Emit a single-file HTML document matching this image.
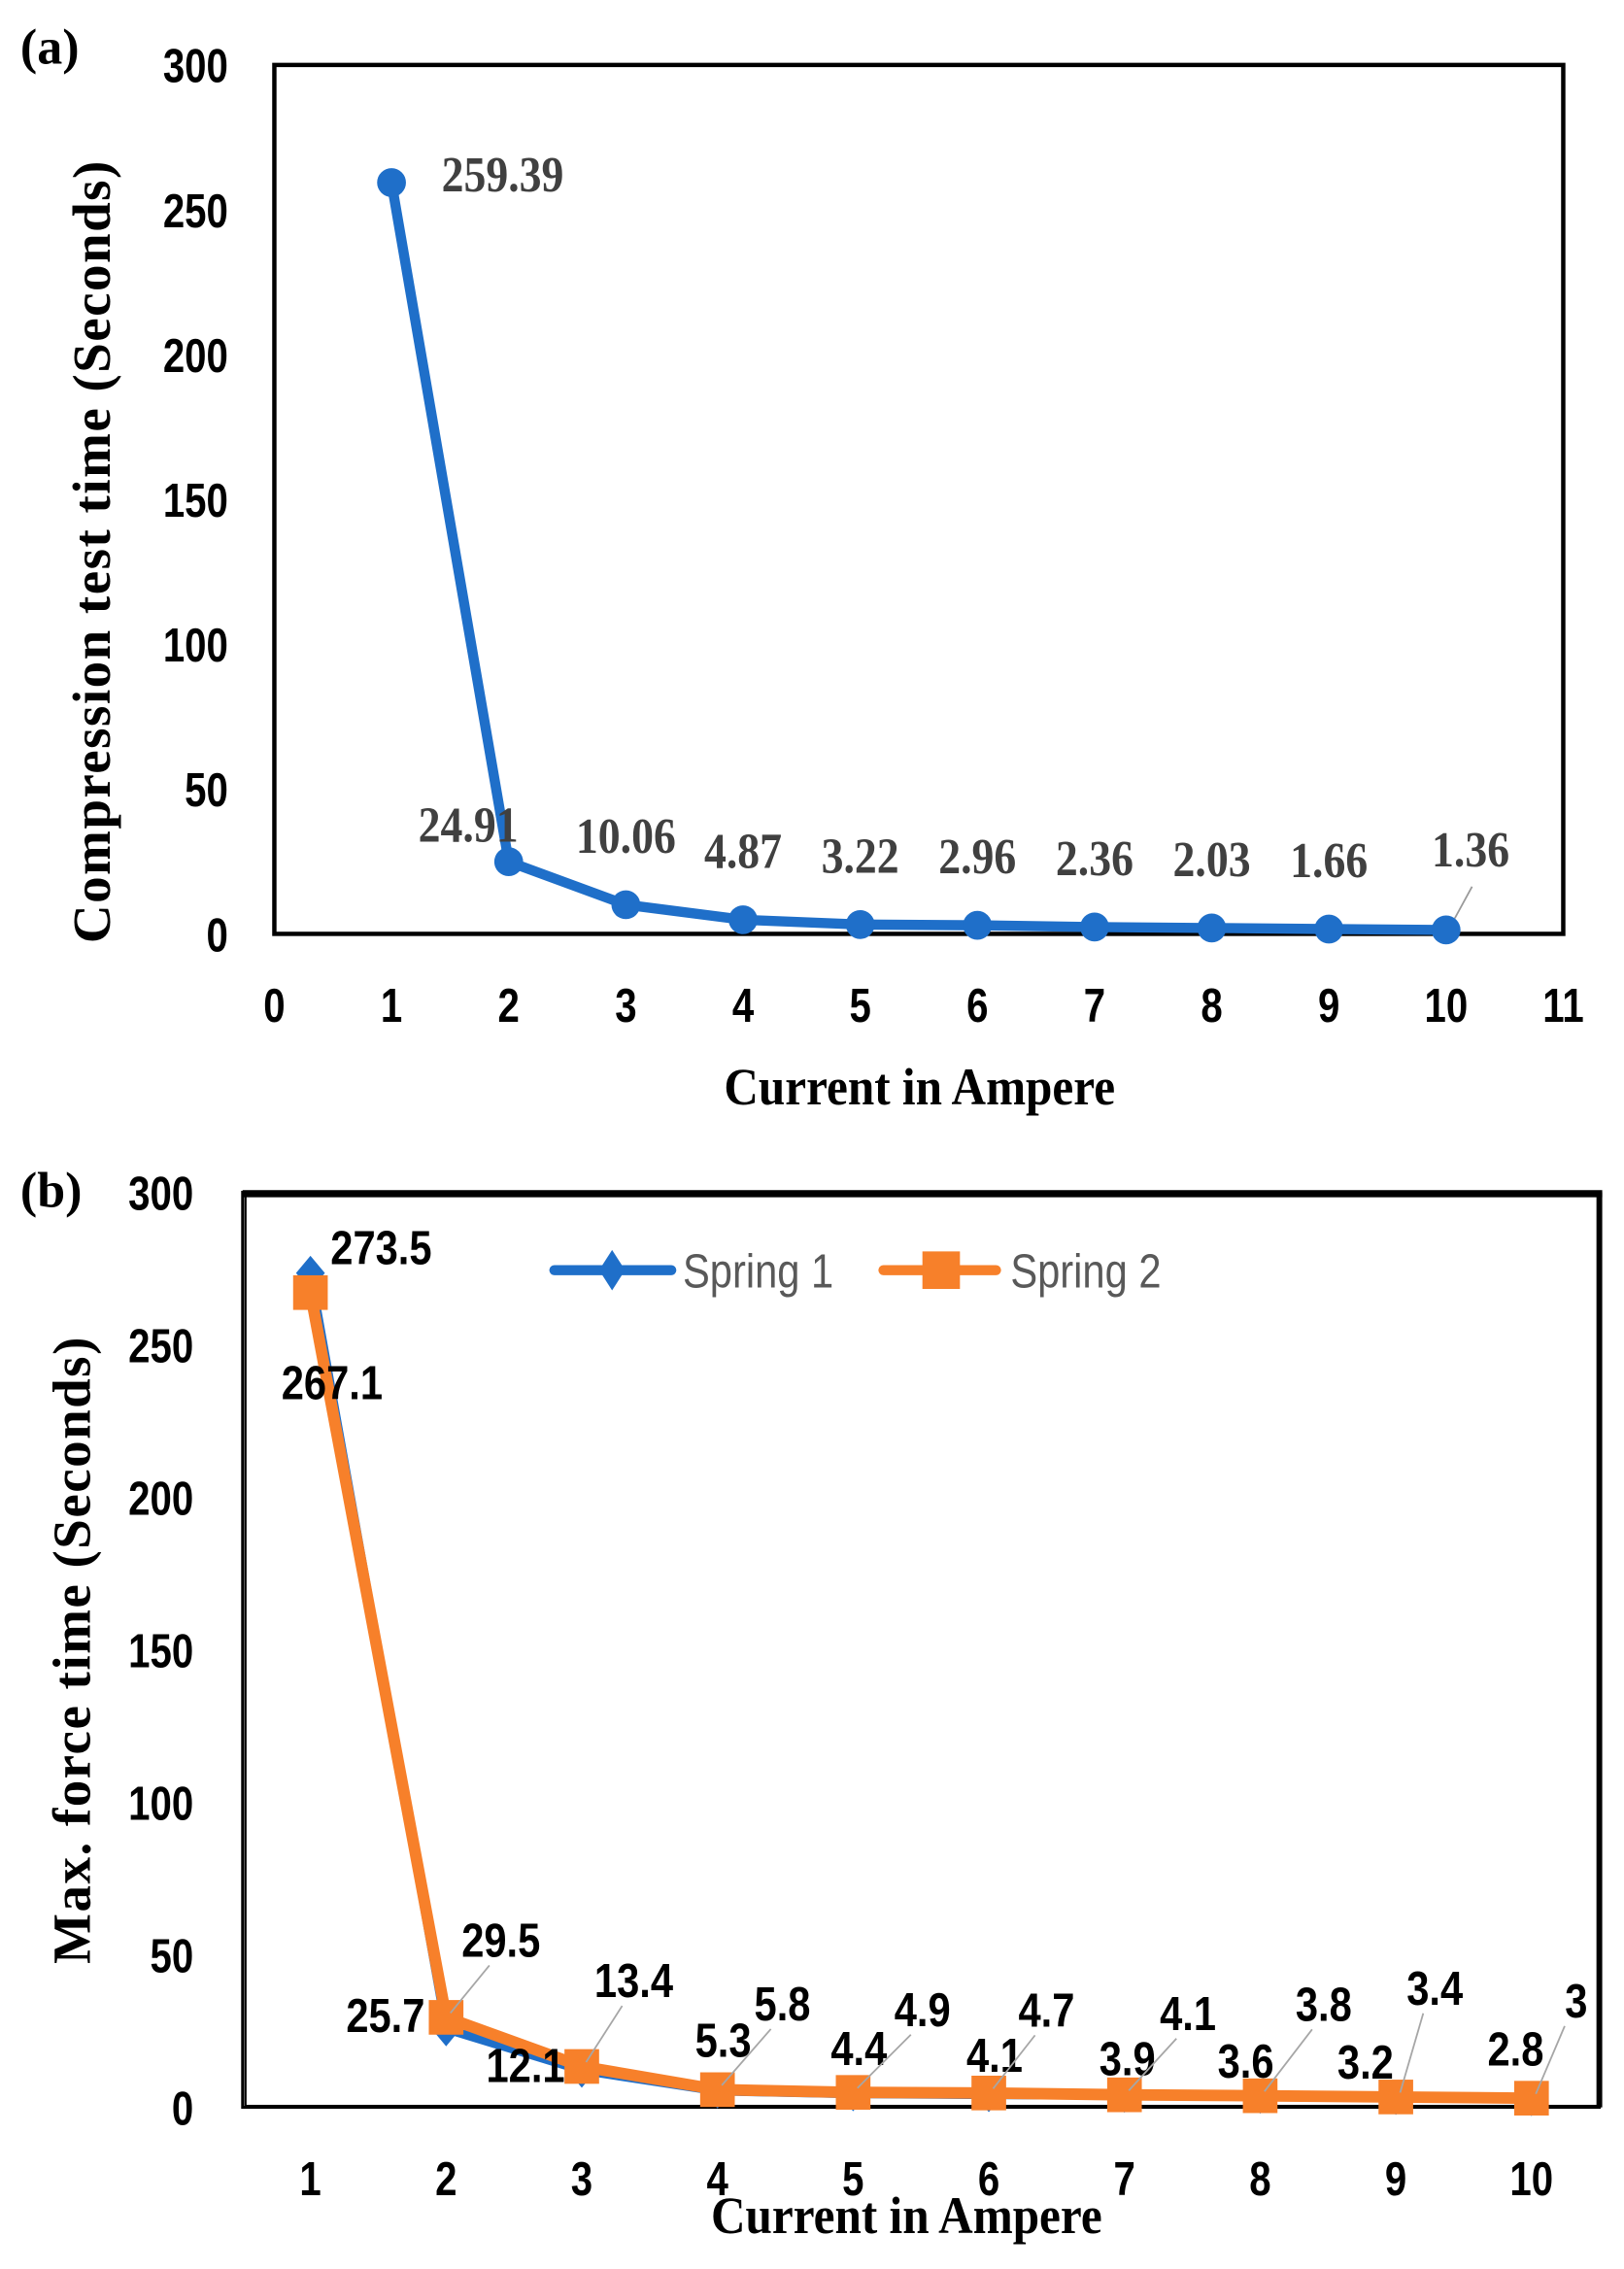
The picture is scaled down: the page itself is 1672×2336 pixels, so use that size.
<!DOCTYPE html>
<html><head><meta charset="utf-8"><style>
html,body{margin:0;padding:0;background:#fff}
svg{display:block}
text{font-family:"Liberation Sans",sans-serif}
.serif{font-family:"Liberation Serif",serif;font-weight:bold}
</style></head><body>
<svg id="fig" width="1672" height="2336" viewBox="0 0 1125 1572" xmlns="http://www.w3.org/2000/svg">
<g id="pa"></g>
<g id="pb"></g>
</svg>
<script>
// Panel (a) data
const aX = [1,2,3,4,5,6,7,8,9,10];
const aY = [259.39,24.91,10.06,4.87,3.22,2.96,2.36,2.03,1.66,1.36];
const aLabels = ["259.39","24.91","10.06","4.87","3.22","2.96","2.36","2.03","1.66","1.36"];
const aXTicks = [0,1,2,3,4,5,6,7,8,9,10,11];
const aYTicks = [0,50,100,150,200,250,300];
// Panel (b) data
const bCats = ["1","2","3","4","5","6","7","8","9","10"];
const bSpring1 = [273.5,25.7,12.1,5.3,4.4,4.1,3.9,3.6,3.2,2.8];
const bSpring2 = [267.1,29.5,13.4,5.8,4.9,4.7,4.1,3.8,3.4,3];
const bYTicks = [0,50,100,150,200,250,300];

const NS="http://www.w3.org/2000/svg";
function mk(parent,tag,attrs,txt){const e=document.createElementNS(NS,tag);for(const k in attrs)e.setAttribute(k,attrs[k]);if(txt!==undefined)e.textContent=txt;parent.appendChild(e);return e;}
function narrow(e,x,s){e.setAttribute('transform',`translate(${x},0) scale(${s},1) translate(${-x},0)`);return e;}
const BLUE="#1F6FC9", ORANGE="#F7802A";

// ---------- Panel A ----------
const pa=document.getElementById('pa');
const aL=190,aR=1083,aT=45,aB=647;
const ax=v=>aL+(v-0)/11*(aR-aL);
const ay=v=>aB-(v/300)*(aB-aT);
let t=mk(pa,'text',{x:14,y:44,'font-size':35,class:'serif'},'(a)');

let r=mk(pa,'rect',{x:aL,y:aT,width:aR-aL,height:aB-aT,fill:'none',stroke:'#000','stroke-width':3});

aYTicks.forEach(v=>{const e=mk(pa,'text',{x:158,y:ay(v)+12,'font-size':33,'font-weight':'bold','text-anchor':'end'},String(v));
narrow(e,158,0.82);
});
aXTicks.forEach(v=>{const e=mk(pa,'text',{x:ax(v),y:708,'font-size':33,'font-weight':'bold','text-anchor':'middle'},String(v));
narrow(e,ax(v),0.82);
});
t=mk(pa,'text',{x:637,y:765,'font-size':36,'text-anchor':'middle',class:'serif'},'Current in Ampere');
narrow(t,637,0.92);

t=mk(pa,'text',{x:0,y:0,'font-size':37,'text-anchor':'middle',class:'serif','letter-spacing':1,transform:'translate(76,382) rotate(-90)'},'Compression  test time (Seconds)');

let pts=aX.map((x,i)=>ax(x)+','+ay(aY[i])).join(' ');
let pl=mk(pa,'polyline',{points:pts,fill:'none',stroke:BLUE,'stroke-width':7,'stroke-linejoin':'round'});

mk(pa,'line',{x1:ax(10)+6,y1:ay(aY[9])-8,x2:ax(10)+18,y2:ay(aY[9])-30,stroke:'#999','stroke-width':1.2});
const aOff=[[77,6],[-28,-14],[0,-36],[0,-36],[0,-36],[0,-36],[0,-36],[0,-36],[0,-36],[17,-44]];
aX.forEach((x,i)=>{const c=mk(pa,'circle',{cx:ax(x),cy:ay(aY[i]),r:10,fill:BLUE});

const lx=ax(x)+aOff[i][0];
const l=mk(pa,'text',{x:lx,y:ay(aY[i])+aOff[i][1],'font-size':35,'text-anchor':'middle',fill:'#404040',class:'serif'},aLabels[i]);
narrow(l,lx,0.88);
});

// ---------- Panel B ----------
const pb=document.getElementById('pb');
const bL=168,bR=1108,bT=826,bB=1460;
const bx=i=>bL+(i+0.5)*(bR-bL)/bCats.length;
const by=v=>bB-(v/300)*(bB-bT);
t=mk(pb,'text',{x:14,y:836,'font-size':35,class:'serif'},'(b)');

r=mk(pb,'rect',{x:bL,y:bT,width:bR-bL,height:bB-bT,fill:'none',stroke:'#000','stroke-width':2});

mk(pb,'rect',{x:bL+2,y:bT+1,width:bR-bL-2,height:bB-bT-2,fill:'none',stroke:'#000','stroke-width':1.5});
mk(pb,'line',{x1:bL,y1:bT+1,x2:bR+2,y2:bT+1,stroke:'#000','stroke-width':5});
mk(pb,'line',{x1:bR,y1:bT,x2:bR,y2:bB,stroke:'#000','stroke-width':4});
bYTicks.forEach(v=>{const e=mk(pb,'text',{x:134,y:by(v)+12,'font-size':33,'font-weight':'bold','text-anchor':'end'},String(v));
narrow(e,134,0.82);
});
bCats.forEach((c,i)=>{const e=mk(pb,'text',{x:bx(i),y:1521,'font-size':33,'font-weight':'bold','text-anchor':'middle'},c);
narrow(e,bx(i),0.82);
});
t=mk(pb,'text',{x:628,y:1547,'font-size':36,'text-anchor':'middle',class:'serif'},'Current in Ampere');
narrow(t,628,0.92);

t=mk(pb,'text',{x:0,y:0,'font-size':37,'text-anchor':'middle',class:'serif','letter-spacing':1,transform:'translate(62,1143) rotate(-90)'},'Max. force time (Seconds)');

pl=mk(pb,'polyline',{points:bSpring1.map((v,i)=>bx(i)+','+by(v)).join(' '),fill:'none',stroke:BLUE,'stroke-width':6});

bSpring1.forEach((v,i)=>{const x=bx(i),y=by(v);const d=mk(pb,'polygon',{points:`${x},${y-12} ${x+10},${y} ${x},${y+12} ${x-10},${y}`,fill:BLUE});
});
pl=mk(pb,'polyline',{points:bSpring2.map((v,i)=>bx(i)+','+by(v)).join(' '),fill:'none',stroke:ORANGE,'stroke-width':8});

bSpring2.forEach((v,i)=>{const x=bx(i),y=by(v);const s=mk(pb,'rect',{x:x-12,y:y-12,width:24,height:24,fill:ORANGE});
});
const s1Off=[[49,-6],[-42,2],[-39,8],[4,-24],[4,-20],[4,-16],[2,-14],[-10,-13],[-21,-13],[-11,-23]];
const s2Off=[[15,74],[38,-42],[36,-48],[45,-48],[48,-46],[40,-46],[44,-45],[44,-52],[27,-64],[31,-56]];
bSpring1.forEach((v,i)=>{const lx=bx(i)+s1Off[i][0];const l=mk(pb,'text',{x:lx,y:by(v)+s1Off[i][1],'font-size':33,'font-weight':'bold','text-anchor':'middle'},String(v));
narrow(l,lx,0.85);
});
bSpring2.forEach((v,i)=>{const x=bx(i),y=by(v);
if(i>0) mk(pb,'line',{x1:x+3,y1:y-3,x2:x+s2Off[i][0]-8,y2:y+s2Off[i][1]+6,stroke:'#a6a6a6','stroke-width':1.2});
const lx=x+s2Off[i][0];
const l=mk(pb,'text',{x:lx,y:y+s2Off[i][1],'font-size':33,'font-weight':'bold','text-anchor':'middle'},String(v));
narrow(l,lx,0.85);
});
const lg=mk(pb,'g',{});

mk(lg,'line',{x1:384,y1:880,x2:465,y2:880,stroke:BLUE,'stroke-width':7,'stroke-linecap':'round'});
mk(lg,'polygon',{points:'424,866 433,880 424,894 415,880',fill:BLUE});
let lt=mk(lg,'text',{x:473,y:892,'font-size':33,fill:'#595959'},'Spring 1');
narrow(lt,473,0.85);
mk(lg,'line',{x1:612,y1:880,x2:690,y2:880,stroke:ORANGE,'stroke-width':7,'stroke-linecap':'round'});
mk(lg,'rect',{x:639,y:867,width:26,height:26,fill:ORANGE});
lt=mk(lg,'text',{x:700,y:892,'font-size':33,fill:'#595959'},'Spring 2');
narrow(lt,700,0.85);
</script>
</body></html>
